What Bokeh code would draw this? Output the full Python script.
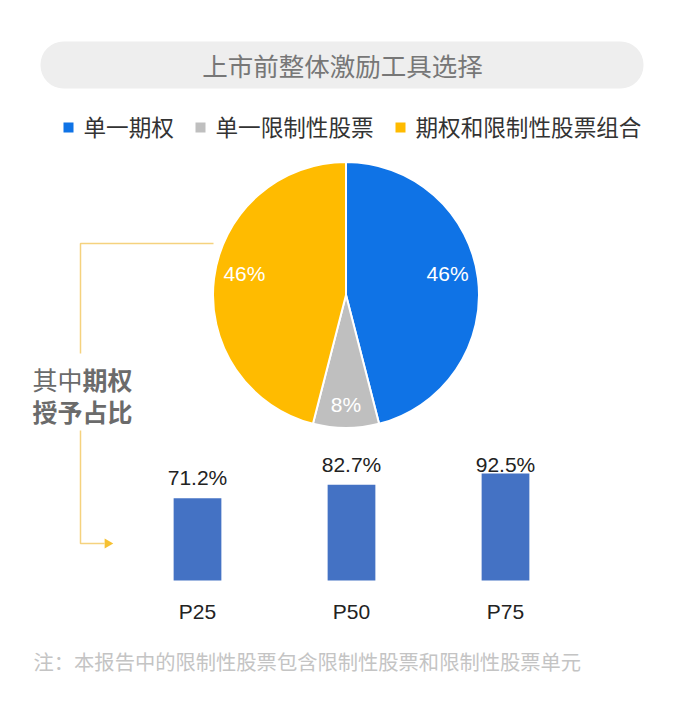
import math
from bokeh.plotting import figure
from bokeh.models import Range1d, BoxAnnotation
from bokeh.core.properties import value
from bokeh.embed import file_html
from bokeh.resources import INLINE

# ---------------- data ----------------
title_text = "上市前整体激励工具选择"
pie_labels = ["单一期权", "单一限制性股票", "期权和限制性股票组合"]
pie_shares = [46, 8, 46]
pie_colors = ["#0F73E6", "#BFBFBF", "#FFBB00"]
bar_cats = ["P25", "P50", "P75"]
bar_values = [71.2, 82.7, 92.5]
side_note = ["其中", "期权", "授予占比"]
footnote = "注：本报告中的限制性股票包含限制性股票和限制性股票单元"

CJK = "Noto Sans CJK SC"
LAT = "Liberation Sans"

# ---------------- figure (data coords = screenshot pixels, y negated) ----------------
W, H = 669, 698
OFF = 0
p = figure(width=W, height=H, output_backend="svg", toolbar_location=None,
           x_range=Range1d(OFF, OFF + W), y_range=Range1d(-(OFF + H), -OFF),
           x_axis_type=None, y_axis_type=None, min_border=0)
p.grid.visible = False
p.outline_line_color = None
p.background_fill_color = "white"
p.border_fill_color = "white"

# title pill
p.add_layout(BoxAnnotation(left=40, right=643, top=-41, bottom=-88,
                           fill_color="#EEEEEE", fill_alpha=1.0, line_color=None,
                           border_radius=23, level="underlay"))
p.text(x=[342], y=[-64], text=[title_text], text_font=value(CJK),
       text_font_size="25.5px", text_color="#777777",
       text_align="center", text_baseline="middle")

# legend
leg_left = [63, 195, 395]
p.rect(x=[l + 5 for l in leg_left], y=[-127] * 3, width=10, height=10,
       fill_color=pie_colors, line_color=None)
p.text(x=[l + 20 for l in leg_left], y=[-126] * 3, text=pie_labels,
       text_font=value(CJK), text_font_size="22.6px", text_color="#333333",
       text_align="left", text_baseline="middle")

# pie
cx, cy, r = 345.5, -294.5, 133
total = sum(pie_shares)
starts, ends, lx, ly = [], [], [], []
label_dy = [-9, 7, -9]
cum = 0.0
for i, s in enumerate(pie_shares):
    a0 = math.pi / 2 - cum / total * 2 * math.pi
    cum += s
    a1 = math.pi / 2 - cum / total * 2 * math.pi
    starts.append(a1)
    ends.append(a0)
    mid = (a0 + a1) / 2
    lx.append(cx + 0.77 * r * math.cos(mid))
    ly.append(cy + 0.77 * r * math.sin(mid) - label_dy[i])
p.wedge(x=cx, y=cy, radius=r, start_angle=starts, end_angle=ends,
        fill_color=pie_colors, line_color="white", line_width=2)
p.text(x=lx, y=ly, text=[f"{s}%" for s in pie_shares], text_font=value(LAT),
       text_font_size="21px", text_color="white",
       text_align="center", text_baseline="middle")

# side annotation lines
gold = "#F5D27E"
p.line(x=[213, 80, 80], y=[-243, -243, -353], line_color=gold, line_width=1.5)
p.line(x=[80, 80, 104], y=[-430, -543, -543], line_color=gold, line_width=1.5)
p.scatter(x=[107], y=[-543], marker="triangle", size=10, angle=-math.pi / 2,
          fill_color="#F6C133", line_color=None)
p.text(x=[32], y=[-378], text=[side_note[0]], text_font=value(CJK),
       text_font_size="25px", text_color="#6B6B6B",
       text_align="left", text_baseline="middle")
p.text(x=[82], y=[-378], text=[side_note[1]], text_font=value(CJK),
       text_font_size="25px", text_font_style="bold", text_color="#6B6B6B",
       text_align="left", text_baseline="middle")
p.text(x=[32], y=[-410], text=[side_note[2]], text_font=value(CJK),
       text_font_size="25px", text_font_style="bold", text_color="#6B6B6B",
       text_align="left", text_baseline="middle")

# bars on their own scales
px_per_unit = 1.1563
base_y, first_x, step = 580, 197, 154
p.extra_x_ranges = {"bars": Range1d((OFF - first_x) / step, (OFF + W - first_x) / step)}
p.extra_y_ranges = {"bars": Range1d((base_y - (OFF + H)) / px_per_unit, (base_y - OFF) / px_per_unit)}
idx = list(range(len(bar_cats)))
p.vbar(x=idx, top=bar_values, bottom=0, width=0.31, fill_color="#4472C4",
       line_color=None, x_range_name="bars", y_range_name="bars")
p.text(x=idx, y=[min(v + 18, 100) for v in bar_values],
       text=[f"{v:.1f}%" for v in bar_values], text_font=value(LAT),
       text_font_size="21px", text_color="#222222", text_align="center",
       text_baseline="middle", x_range_name="bars", y_range_name="bars")
p.text(x=idx, y=[-27] * len(idx), text=bar_cats, text_font=value(LAT),
       text_font_size="21px", text_color="#222222", text_align="center",
       text_baseline="middle", x_range_name="bars", y_range_name="bars")

# footnote
p.text(x=[33], y=[-660], text=[footnote], text_font=value(CJK),
       text_font_size="20.3px", text_color="#C4C4C4",
       text_align="left", text_baseline="middle")

open("out.html", "w").write(file_html(p, INLINE))
